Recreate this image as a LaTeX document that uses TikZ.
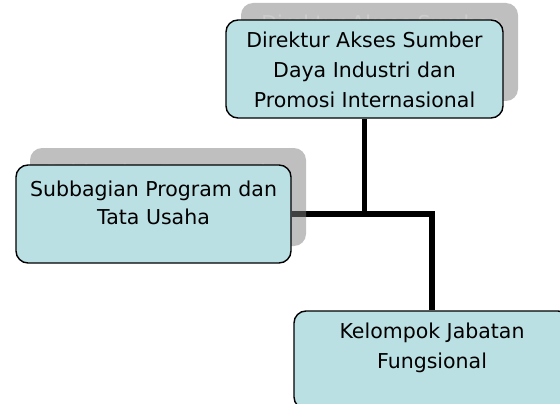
\documentclass[tikz,border=0pt]{standalone}
\usepackage{fontspec}
\setmainfont{DejaVu Sans}
\usetikzlibrary{backgrounds}
\definecolor{unitfill}{RGB}{187,224,228}
\tikzset{
  unitbox/.style={draw=black, line width=1.4pt, fill=unitfill, rounded corners=12pt,
    minimum width=277pt, minimum height=98pt, inner sep=0pt},
  unitshadow/.style={fill=black!50, fill opacity=0.5, rounded corners=12pt,
    minimum width=277pt, minimum height=98pt, inner sep=0pt},
  unittext/.style={align=center, inner sep=0pt, anchor=north,
    font=\fontsize{20.5}{30}\selectfont},
  shadowtext/.style={unittext, text=black!15, text opacity=0.5},
  link/.style={line width=5.5pt}
}
\begin{document}
\begin{tikzpicture}[x=1pt,y=-1pt]
  \useasboundingbox (0,0) rectangle (560,404);
  \clip (0,0) rectangle (560,404);
  % shadows
  \node[unitshadow] (dirshadow) at (379.5,52) {};
  \node[shadowtext] (dirshadowtext) at ([yshift=-12.4pt]dirshadow.north)
    {Direktur Akses Sumber};
  \node[unitshadow, minimum width=276pt] (subshadow) at (168,197) {};
  \node[shadowtext] (subshadowtext) at ([yshift=-16.4pt]subshadow.north)
    {Subbagian Program dan};
  % boxes
  \node[unitbox] (dir) at (364.5,69) {};
  \node[unittext] (dirlabel) at ([yshift=-12.4pt]dir.north)
    {Direktur Akses Sumber\\Daya Industri dan\\Promosi Internasional};
  \node[unitbox, minimum width=275pt] (sub) at (153.5,214) {};
  \node[unittext, font=\fontsize{20.5}{28}\selectfont] (sublabel)
    at ([yshift=-16.4pt]sub.north) {Subbagian Program dan\\Tata Usaha};
  \node[unitbox, minimum width=276pt] (kjf) at (432,360) {};
  \node[unittext] (kjflabel) at ([yshift=-12.4pt]kjf.north)
    {Kelompok Jabatan\\Fungsional};
  % connectors
  \begin{pgfonlayer}{background}
    \draw[link] (dir.south) |- (sub.east);
    \draw[link] (sub.east) -| (kjf.north);
  \end{pgfonlayer}
\end{tikzpicture}
\end{document}
